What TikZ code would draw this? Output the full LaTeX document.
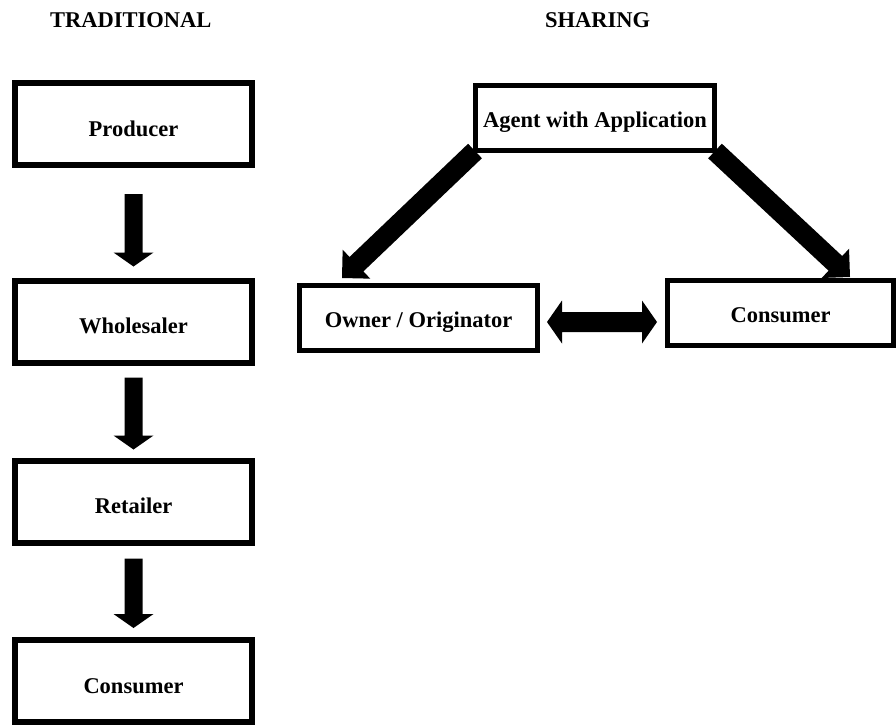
\documentclass[tikz,border=0pt]{standalone}
\usepackage{fontspec}
\setmainfont{Liberation Serif}
\usetikzlibrary{calc}
\pgfdeclarelayer{background}
\pgfsetlayers{background,main}
\tikzset{
  boxfont/.style={font=\fontsize{22.5}{27}\selectfont\bfseries},
  lbox/.style={boxfont, draw=black, line width=6pt, fill=white, minimum width=237pt, minimum height=82pt, inner sep=0pt, text height=24pt, text depth=0pt},
  rbox/.style={boxfont, draw=black, line width=5pt, fill=white, minimum height=65pt, inner sep=0pt, text height=19pt, text depth=0pt},
  ttl/.style={boxfont, anchor=base west, inner sep=0pt}
}
% #1 from, #2 to, #3 shaft half width, #4 head half width, #5 head length
\newcommand\fatarrow[5]{%
  \coordinate (fah) at ($(#2)!#5!(#1)$);
  \fill[black] ($(#1)!#3!90:(#2)$) -- ($(fah)!#3!90:(#2)$) -- ($(fah)!#4!90:(#2)$) -- (#2)
    -- ($(fah)!#4!-90:(#2)$) -- ($(fah)!#3!-90:(#2)$) -- ($(#1)!#3!-90:(#2)$) -- cycle;
}
\newcommand\dblarrow[5]{%
  \coordinate (dha) at ($(#1)!#5!(#2)$);
  \coordinate (dhb) at ($(#2)!#5!(#1)$);
  \fill[black] (#1) -- ($(dha)!#4!90:(#2)$) -- ($(dha)!#3!90:(#2)$) -- ($(dhb)!#3!90:(#2)$)
    -- ($(dhb)!#4!90:(#2)$) -- (#2) -- ($(dhb)!#4!-90:(#2)$) -- ($(dhb)!#3!-90:(#2)$)
    -- ($(dha)!#3!-90:(#2)$) -- ($(dha)!#4!-90:(#2)$) -- cycle;
}
\begin{document}
\begin{tikzpicture}[x=1pt,y=-1pt]
\useasboundingbox (0,0) rectangle (896,726);
% titles
\node[ttl] (ttrad) at (50,27) {TRADITIONAL};
\node[ttl] (tshare) at (545,27) {SHARING};
% traditional chain
\node[lbox] (prod) at (133.5,124) {Producer};
\node[lbox] (whol) at (133.5,321.5) {Wholesaler};
\node[lbox] (ret) at (133.5,501.5) {Retailer};
\node[lbox] (cons) at (133.5,681) {Consumer};
% sharing
\node[rbox, minimum width=239pt] (agent) at (595,118) {Agent with Application};
\node[rbox, minimum width=238pt] (owner) at (418.5,318) {Owner / Originator};
\node[rbox, minimum width=226pt] (cons2) at (780.5,313) {Consumer};
% connector end points
\coordinate (a1s) at ([yshift=-26pt]prod.south);
\coordinate (a1e) at ([yshift=11pt]whol.north);
\coordinate (a2s) at ([yshift=-12pt]whol.south);
\coordinate (a2e) at ([yshift=8pt]ret.north);
\coordinate (a3s) at ([yshift=-13pt]ret.south);
\coordinate (a3e) at ([yshift=9pt]cons.north);
\coordinate (d1s) at ([xshift=2pt,yshift=2pt]agent.south west);
\coordinate (d1e) at ([xshift=45pt,yshift=5pt]owner.north west);
\coordinate (d2s) at ([xshift=-2pt,yshift=2pt]agent.south east);
\coordinate (d2e) at ([xshift=-46pt,yshift=1pt]cons2.north east);
\coordinate (hs) at ([xshift=7pt,yshift=-4pt]owner.east);
\coordinate (he) at ([xshift=-8pt]hs -| cons2.west);
\begin{pgfonlayer}{background}
\fatarrow{a1s}{a1e}{9pt}{20pt}{14pt}
\fatarrow{a2s}{a2e}{9pt}{20pt}{14pt}
\fatarrow{a3s}{a3e}{9pt}{20pt}{14pt}
\fatarrow{d1s}{d1e}{10pt}{20pt}{20pt}
\fatarrow{d2s}{d2e}{10pt}{20pt}{20pt}
\dblarrow{hs}{he}{10pt}{21.5pt}{15pt}
\end{pgfonlayer}
\end{tikzpicture}
\end{document}
